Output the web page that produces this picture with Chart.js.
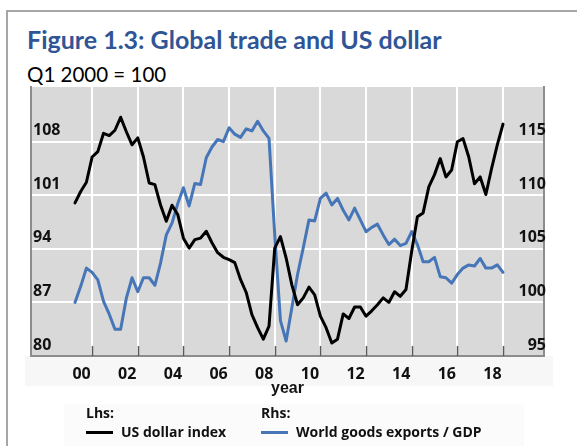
<!DOCTYPE html>
<html>
<head>
<meta charset="utf-8">
<script src="https://cdn.jsdelivr.net/npm/chart.js@4.4.1/dist/chart.umd.min.js"></script>
<style>
  html, body { margin: 0; padding: 0; background: #fff; }
  #page { position: relative; width: 577px; height: 446px; overflow: hidden; }
  #frame {
    position: absolute; left: 6px; top: 10px; width: 620px; height: 520px;
    border-left: 2px solid #a6a6a6; border-top: 2px solid #a6a6a6;
  }
  #title {
    position: absolute; left: 27px; top: 24px; white-space: nowrap;
    font: bold 25px Lato, sans-serif; line-height: 30px; color: #2f5597;
  }
  #subtitle {
    position: absolute; left: 27px; top: 62px; white-space: nowrap;
    font: 20.5px Lato, sans-serif; line-height: 24px; color: #000;
  }
  #band { position: absolute; left: 25px; top: 356px; width: 528px; height: 30px; background: #f7f7f7; }
  #legendBox { position: absolute; left: 64px; top: 404px; width: 460px; height: 46px; background: #fbfbfb; }
  canvas { position: absolute; left: 0; top: 0; }
  .lg { position: absolute; font: bold 14px "Open Sans", sans-serif; color: #111; white-space: nowrap; }
  .lg .head { position: absolute; left: 0; top: 0; line-height: 18px; }
  .lg .row { position: absolute; left: 0; top: 19px; line-height: 18px; display: flex; align-items: center; }
  .lg .swatch { display: inline-block; width: 27px; height: 3px; margin-right: 8px; }
</style>
</head>
<body>
<div id="page">
  <div id="frame"></div>
  <div id="title">Figure 1.3: Global trade and US dollar</div>
  <div id="subtitle">Q1 2000 = 100</div>
  <div id="band"></div>
  <div id="legendBox"></div>
  <canvas id="chart" width="577" height="446"></canvas>
  <div id="legend"></div>
</div>
<script>
// quarterly, Q1 2000 .. Q4 2018
const years = [2000, 2001, 2002, 2003, 2004, 2005, 2006, 2007, 2008, 2009,
  2010, 2011, 2012, 2013, 2014, 2015, 2016, 2017, 2018];
const quarters = [];
years.forEach(y => ["Q1", "Q2", "Q3", "Q4"].forEach(q => quarters.push(y + q)));

// Lhs
const dollarIndex = [
  100.0, 101.5, 102.7, 106.0, 106.7, 109.1, 108.8, 109.5,
  111.2, 109.3, 107.6, 108.5, 106.0, 102.6, 102.4, 99.7,
  97.6, 99.7, 98.5, 95.4, 94.1, 95.2, 95.4, 96.3,
  94.8, 93.5, 92.9, 92.6, 92.2, 90.0, 88.3, 85.4,
  83.7, 82.2, 83.9, 94.1, 95.6, 92.8, 89.3, 86.7,
  87.6, 89.0, 88.0, 85.2, 83.7, 81.7, 82.2, 85.5,
  84.9, 86.4, 86.4, 85.2, 85.9, 86.7, 87.6, 87.0,
  88.4, 87.8, 88.7, 93.7, 98.2, 98.7, 102.1, 103.7,
  105.8, 103.4, 104.3, 108.0, 108.4, 106.0, 102.5, 103.4,
  101.1, 104.5, 107.6, 110.3
];

// Rhs
const exportsToGdp = [
  100.0, 101.5, 103.2, 102.8, 102.1, 100.1, 98.9, 97.5,
  97.5, 100.4, 102.3, 101.0, 102.3, 102.3, 101.6, 103.7,
  106.3, 107.4, 109.2, 110.7, 109.0, 111.1, 111.0, 113.5,
  114.5, 115.2, 115.0, 116.3, 115.7, 115.4, 116.2, 116.0,
  116.9, 116.0, 115.3, 106.3, 98.3, 96.4, 99.5, 102.6,
  105.1, 107.7, 107.6, 109.7, 110.2, 109.1, 109.7, 108.6,
  107.7, 108.8, 107.7, 106.6, 107.0, 107.3, 106.3, 105.4,
  105.9, 105.3, 105.5, 106.6, 105.4, 103.8, 103.8, 104.2,
  102.4, 102.3, 101.8, 102.6, 103.2, 103.5, 103.4, 104.1,
  103.2, 103.2, 103.5, 102.8
];

const xTickQuarters = ["2000Q4", "2002Q4", "2004Q4", "2006Q4", "2008Q4",
  "2010Q4", "2012Q4", "2014Q4", "2016Q4", "2018Q4"];
const xTickLabels = ["00", "02", "04", "06", "08", "10", "12", "14", "16", "18"];
const leftTicks = [80, 87, 94, 101, 108];
const rightTicks = [95, 100, 105, 110, 115];

const seriesNames = ["US dollar index", "World goods exports / GDP"];
const axisHeads = ["Lhs:", "Rhs:"];
const colors = ["#000000", "#4676b8"];

const xTickIdx = xTickQuarters.map(q => quarters.indexOf(q));
const tickFont = { family: "'Open Sans', sans-serif", size: 16, weight: "bold", lineHeight: 1 };

const plotBackground = {
  id: "plotBackground",
  beforeDraw(chart) {
    const { ctx, chartArea: a } = chart;
    ctx.save();
    ctx.fillStyle = "#d9d9d9";
    ctx.fillRect(a.left, a.top, a.right - a.left, a.bottom - a.top);
    ctx.restore();
  }
};

// small upward tick marks on the bottom axis
const innerTicks = {
  id: "innerTicks",
  beforeDatasetsDraw(chart) {
    const { ctx, chartArea: a, scales } = chart;
    ctx.save();
    ctx.strokeStyle = "#5a5a5a";
    ctx.lineWidth = 1.5;
    scales.x.ticks.forEach(t => {
      const px = Math.round(scales.x.getPixelForValue(t.value)) + 0.5;
      ctx.beginPath();
      ctx.moveTo(px, a.bottom);
      ctx.lineTo(px, a.bottom - 10);
      ctx.stroke();
    });
    ctx.restore();
  }
};

const chart = new Chart(document.getElementById("chart"), {
  type: "line",
  data: {
    datasets: [
      {
        label: seriesNames[0],
        data: dollarIndex.map((v, i) => ({ x: i, y: v })),
        borderColor: colors[0],
        yAxisID: "y",
      },
      {
        label: seriesNames[1],
        data: exportsToGdp.map((v, i) => ({ x: i, y: v })),
        borderColor: colors[1],
        yAxisID: "y1",
      }
    ]
  },
  options: {
    responsive: false,
    animation: false,
    devicePixelRatio: 1,
    layout: { padding: { left: 27, right: 29, top: 87, bottom: 47.8 } },
    elements: {
      point: { radius: 0 },
      line: { borderWidth: 3, tension: 0, borderJoinStyle: "round", borderCapStyle: "round" }
    },
    plugins: { legend: { display: false }, tooltip: { enabled: false } },
    scales: {
      x: {
        type: "linear",
        bounds: "data",
        min: -7.71,
        max: 82.185,
        afterBuildTicks: s => { s.ticks = xTickIdx.map(v => ({ value: v })); },
        ticks: {
          autoSkip: false,
          maxRotation: 0,
          padding: 10,
          labelOffset: -10.5,
          color: "#111",
          font: tickFont,
          callback: v => xTickLabels[xTickIdx.indexOf(v)]
        },
        grid: { color: "#ffffff", lineWidth: 2, drawTicks: false },
        border: { display: true, color: "#8c8c8c", width: 2 },
        title: {
          display: true,
          text: "year",
          color: "#111",
          font: { family: "'Liberation Sans', Arial, sans-serif", size: 16, weight: "bold", lineHeight: 1.2 },
          padding: { top: -13, bottom: 0 }
        }
      },
      y: {
        position: "left",
        min: 80,
        max: 115.15,
        afterBuildTicks: s => { s.ticks = leftTicks.map(v => ({ value: v })); },
        ticks: { mirror: true, padding: 2, labelOffset: -11, color: "#111", font: tickFont },
        grid: {
          color: c => (c.tick && c.tick.value === leftTicks[0]) ? "rgba(0,0,0,0)" : "#ffffff",
          lineWidth: 2,
          drawTicks: false
        },
        border: { display: true, color: "#8c8c8c", width: 2 }
      },
      y1: {
        position: "right",
        min: 95,
        max: 120.1,
        afterBuildTicks: s => { s.ticks = rightTicks.map(v => ({ value: v })); },
        ticks: { mirror: true, padding: 2, labelOffset: -11, color: "#111", font: tickFont },
        grid: { display: false, drawTicks: false },
        border: { display: true, color: "#8c8c8c", width: 2 }
      }
    }
  },
  plugins: [plotBackground, innerTicks]
});

// legend built from the datasets
const legendLeft = [86, 261];
const legend = document.getElementById("legend");
chart.data.datasets.forEach((ds, i) => {
  const g = document.createElement("div");
  g.className = "lg";
  g.style.left = legendLeft[i] + "px";
  g.style.top = "404px";
  g.innerHTML = '<div class="head">' + axisHeads[i] + '</div>' +
    '<div class="row"><span class="swatch" style="background:' + ds.borderColor + '"></span>' + ds.label + '</div>';
  legend.appendChild(g);
});
</script>
</body>
</html>
